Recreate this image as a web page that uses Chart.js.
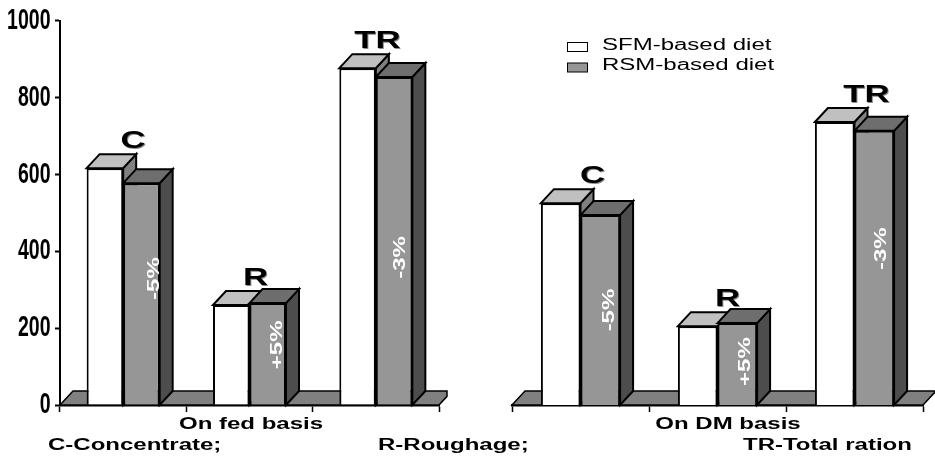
<!DOCTYPE html>
<html>
<head>
<meta charset="utf-8">
<style>
html, body { margin: 0; padding: 0; background: #fff; }
#wrap { position: relative; width: 935px; height: 456px; overflow: hidden; }
canvas { position: absolute; left: 0; top: 0; }
</style>
<script src="https://cdn.jsdelivr.net/npm/chart.js@4/dist/chart.umd.min.js"></script>
</head>
<body>
<div id="wrap">
  <canvas id="fedChart" width="935" height="456"></canvas>
  <canvas id="dmChart" width="935" height="456"></canvas>
</div>
<script>
const categories = ['C', 'R', 'TR'];
const seriesNames = ['SFM-based diet', 'RSM-based diet'];
const fedSfm = [616, 260, 876];
const fedRsm = [577, 265, 853];
const dmSfm = [525, 205, 736];
const dmRsm = [494, 213, 713];
const fedChange = ['-5%', '+5%', '-3%'];
const dmChange = ['-5%', '+5%', '-3%'];
const footnotes = ['C-Concentrate;', 'R-Roughage;', 'TR-Total ration'];

const DEPTH_X = 13;
const DEPTH_Y = 14;
const SANS = '"Liberation Sans", Arial, sans-serif';

// canvas text can't be stretched through options, so scale it by hand
function stretchText(ctx, text, x, y, sx, font, color, align, angle) {
    ctx.save();
    ctx.translate(x, y);
    if (angle) ctx.rotate(angle);
    ctx.scale(sx, 1);
    ctx.font = font;
    ctx.fillStyle = color;
    ctx.textAlign = align || 'center';
    ctx.textBaseline = 'middle';
    ctx.fillText(text, 0, 0);
    ctx.restore();
}

function face(ctx, pts, fill, lineWidth) {
    ctx.beginPath();
    pts.forEach((p, i) => i ? ctx.lineTo(p[0], p[1]) : ctx.moveTo(p[0], p[1]));
    ctx.closePath();
    ctx.fillStyle = fill;
    ctx.fill();
    ctx.lineWidth = lineWidth;
    ctx.strokeStyle = '#000';
    ctx.lineJoin = 'miter';
    ctx.stroke();
}

const bars3d = {
    id: 'bars3d',
    beforeDatasetsDraw(chart, args, opts) {
        const ctx = chart.ctx;
        const area = chart.chartArea;
        const b = area.bottom;
        // floor of the box
        face(ctx, [[area.left, b], [area.left + DEPTH_X, b - DEPTH_Y], [opts.floorEnd, b - DEPTH_Y],
            [opts.floorEnd, Math.min(b, b - DEPTH_Y + (area.right + DEPTH_X - opts.floorEnd) * DEPTH_Y / DEPTH_X)],
            [area.right, b]], '#808080', 1.5);
        // side and top of each bar, the front comes from the library
        chart.data.datasets.forEach((ds, d) => {
            chart.getDatasetMeta(d).data.forEach(bar => {
                const l = bar.x - bar.width / 2;
                const r = bar.x + bar.width / 2;
                face(ctx, [[r, bar.y], [r + DEPTH_X, bar.y - DEPTH_Y], [r + DEPTH_X, b - DEPTH_Y], [r, b]], ds.sideColor, 2);
                face(ctx, [[l, bar.y], [l + DEPTH_X, bar.y - DEPTH_Y], [r + DEPTH_X, bar.y - DEPTH_Y], [r, bar.y]], ds.topColor, 2);
            });
        });
    },
    afterDatasetsDraw(chart, args, opts) {
        const ctx = chart.ctx;
        const white = chart.getDatasetMeta(0).data;
        const grey = chart.getDatasetMeta(1).data;
        const b = chart.chartArea.bottom;
        chart.data.labels.forEach((name, i) => {
            const x = chart.scales.x.getPixelForValue(i) + opts.letterDx[i];
            const y = white[i].y - 27;
            stretchText(ctx, name, x + 1, y + 1, 1.45, 'bold 24px ' + SANS, '#8a8a8a');
            stretchText(ctx, name, x, y, 1.45, 'bold 24px ' + SANS, '#000');
            const g = grey[i];
            const py = g.y + (b - g.y) * opts.changeAt[i];
            stretchText(ctx, opts.change[i], g.x + opts.changeDx[i], py, 1.5, 'bold 16px ' + SANS, '#fff', 'center', -Math.PI / 2);
        });
        stretchText(ctx, opts.title, opts.titleX, 425, 1.5, 'bold 16px ' + SANS, '#000');
        if (opts.drawAxisText) {
            const ys = chart.scales.y;
            ys.ticks.forEach(t => {
                stretchText(ctx, String(t.value), 50.5, ys.getPixelForValue(t.value), 0.65, 'bold 30px ' + SANS, '#000', 'right');
            });
            stretchText(ctx, footnotes[0], 48, 446, 1.5, 'bold 16px ' + SANS, '#000', 'left');
            stretchText(ctx, footnotes[1], 378, 446, 1.5, 'bold 16px ' + SANS, '#000', 'left');
            stretchText(ctx, footnotes[2], 743, 446, 1.5, 'bold 16px ' + SANS, '#000', 'left');
        }
        if (opts.drawLegend) {
            chart.data.datasets.forEach((ds, d) => {
                const top = 42 + d * 20.5;
                ctx.fillStyle = ds.backgroundColor;
                ctx.fillRect(567.5, top + 0.5, 20, 9);
                ctx.lineWidth = 1;
                ctx.strokeStyle = '#000';
                ctx.strokeRect(567.5, top + 0.5, 20, 9);
                stretchText(ctx, ds.label, 602, top + 3.5, 1.5, '16px ' + SANS, '#000', 'left');
            });
        }
    }
};

function makeChart(id, sfm, rsm, plotLeft, plotRight, showY, extra) {
    return new Chart(document.getElementById(id), {
        type: 'bar',
        data: {
            labels: categories,
            datasets: [
                { label: seriesNames[0], data: sfm, backgroundColor: '#ffffff', topColor: '#c0c0c0', sideColor: '#808080' },
                { label: seriesNames[1], data: rsm, backgroundColor: '#969696', topColor: '#6e6e6e', sideColor: '#4d4d4d' }
            ]
        },
        options: {
            responsive: false,
            animation: false,
            layout: { padding: { left: plotLeft, right: 935 - plotRight, top: 20.5, bottom: 41 } },
            datasets: { bar: { categoryPercentage: 0.578, barPercentage: 1, borderColor: '#000', borderWidth: 2, borderSkipped: 'bottom' } },
            plugins: { legend: { display: false }, tooltip: { enabled: false }, bars3d: extra },
            scales: {
                x: {
                    afterFit: s => { s.height = 10; },
                    ticks: { display: false },
                    grid: { drawOnChartArea: false, tickLength: 7, tickColor: '#000', tickWidth: 1.5 },
                    border: { color: '#000', width: 2.5 }
                },
                y: {
                    display: showY,
                    min: 0,
                    max: 1000,
                    afterFit: s => { s.width = 0; },
                    ticks: { display: false, stepSize: 200 },
                    grid: { drawOnChartArea: false, tickLength: 5, tickColor: '#000', tickWidth: 2 },
                    border: { color: '#000', width: 2 }
                }
            }
        },
        plugins: [bars3d]
    });
}

makeChart('fedChart', fedSfm, fedRsm, 60, 439, true, {
    floorEnd: 447, title: 'On fed basis', titleX: 251, drawAxisText: true, drawLegend: false,
    change: fedChange, changeDx: [13, 9.5, 6.5], changeAt: [0.43, 0.41, 0.55], letterDx: [10, 6, 1.5]
});
makeChart('dmChart', dmSfm, dmRsm, 512, 923, false, {
    floorEnd: 935, title: 'On DM basis', titleX: 728, drawAxisText: false, drawLegend: true,
    change: dmChange, changeDx: [9, 8, 7], changeAt: [0.5, 0.47, 0.43], letterDx: [12, 10, 12]
});
</script>
</body>
</html>
